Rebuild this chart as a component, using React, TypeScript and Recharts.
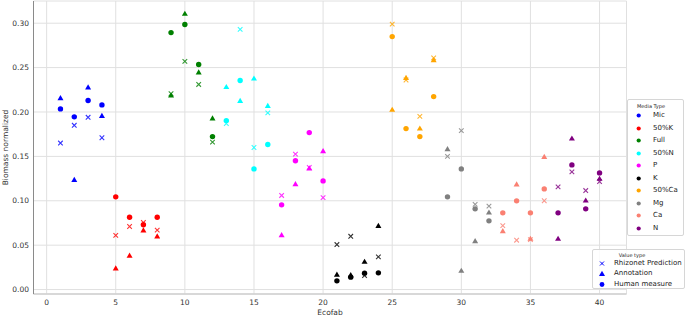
import React from 'react';
import { ScatterChart, Scatter, XAxis, YAxis, CartesianGrid } from 'recharts';

const ecofabs = [
  1, 2, 3, 4, 5, 6, 7, 8, 9, 10, 11, 12, 13, 14, 15, 16, 17, 18, 19, 20,
  21, 22, 23, 24, 25, 26, 27, 28, 29, 30, 31, 32, 33, 34, 35, 36, 37, 38, 39, 40,
];

// four ecofabs per media type, in this order
const mediaTypes = ['Mic', '50%K', 'Full', '50%N', 'P', 'K', '50%Ca', 'Mg', 'Ca', 'N'];

const prediction = [
  0.165, 0.185, 0.194, 0.171,
  0.061, 0.071, 0.0755, 0.067,
  0.2205, 0.257, 0.231, 0.166,
  0.187, 0.293, 0.16, 0.199,
  0.106, 0.1525, 0.1375, 0.1035,
  0.0507, 0.06, 0.0158, 0.0368,
  0.299, 0.236, 0.195, 0.261,
  0.15, 0.179, 0.096, 0.094,
  0.072, 0.0556, 0.0563, 0.1,
  0.1157, 0.1325, 0.1115, 0.1216,
];

const annotation = [
  0.2155, 0.1235, 0.2275, 0.1956,
  0.0237, 0.038, 0.0665, 0.0597,
  0.2185, 0.3105, 0.2444, 0.1926,
  0.228, 0.2125, 0.2376, 0.2068,
  0.0612, 0.1187, 0.1363, 0.1558,
  0.0166, 0.0162, 0.0312, 0.0717,
  0.2024, 0.2384, 0.1813, 0.2583,
  0.1581, 0.0211, 0.0545, 0.0867,
  0.0657, 0.1183, 0.0571, 0.1494,
  0.0571, 0.17, 0.1002, 0.1247,
];

const human = [
  0.2035, 0.1945, 0.213, 0.208,
  0.1044, 0.0815, 0.073, 0.0815,
  0.2894, 0.2985, 0.2534, 0.1723,
  0.1903, 0.2354, 0.1359, 0.1633,
  0.0954, 0.145, 0.1768, 0.1224,
  0.0098, 0.014, 0.0185, 0.0188,
  0.2849, 0.1813, 0.1723, 0.2173,
  0.1044, 0.1359, 0.0909, 0.0774,
  0.0864, 0.0999, 0.0864, 0.1134,
  0.0864, 0.1404, 0.0909, 0.1314,
];

const xTicks = [0, 5, 10, 15, 20, 25, 30, 35, 40];
const yTicks = [0, 0.05, 0.1, 0.15, 0.2, 0.25, 0.3];
const valueTypes = ['Rhizonet Prediction', 'Annotation', 'Human measure'];

const mediaColors: Record<string, string> = {
  Mic: '#0000ff',
  '50%K': '#ff0000',
  Full: '#008000',
  '50%N': '#00ffff',
  P: '#ff00ff',
  K: '#000000',
  '50%Ca': '#ffa500',
  Mg: '#808080',
  Ca: '#fa8072',
  N: '#800080',
};

const FONT = '"DejaVu Sans", sans-serif';

const rows = (values: number[]) =>
  ecofabs.map((e, i) => ({ ecofab: e, value: values[i], media: mediaTypes[Math.floor(i / 4)] }));

const dotShape = (p: any) => (
  <circle cx={p.cx} cy={p.cy} r={2.7} fill={mediaColors[p.payload.media]} />
);

const triPath = (cx: number, cy: number) =>
  `M${cx},${cy - 3.2}L${cx + 3},${cy + 2}L${cx - 3},${cy + 2}Z`;

const triShape = (p: any) => <path d={triPath(p.cx, p.cy)} fill={mediaColors[p.payload.media]} />;

const crossPath = (cx: number, cy: number, s = 2.3) =>
  `M${cx - s},${cy - s}L${cx + s},${cy + s}M${cx - s},${cy + s}L${cx + s},${cy - s}`;

const crossShape = (p: any) => (
  <path
    d={crossPath(p.cx, p.cy)}
    stroke={mediaColors[p.payload.media]}
    strokeWidth={1.1}
    strokeOpacity={0.8}
    fill="none"
  />
);

const boxStyle: React.CSSProperties = {
  position: 'absolute',
  background: 'rgba(255,255,255,0.85)',
  border: '1px solid #d6d6d6',
  borderRadius: 2,
  boxSizing: 'border-box',
  fontFamily: FONT,
  color: '#222',
};

function MediaLegend() {
  return (
    <div style={{ ...boxStyle, left: 627, top: 99, width: 57, height: 137 }}>
      <div style={{ position: 'absolute', left: 0, width: 46, top: 2.5, textAlign: 'center', fontSize: 5, lineHeight: '6px' }}>
        Media Type
      </div>
      {mediaTypes.map((m, i) => (
        <div key={m} style={{ position: 'absolute', left: 0, top: 11 + i * 12.55, height: 8, width: 57 }}>
          <svg width={20} height={8} style={{ position: 'absolute', left: 5, top: 0 }}>
            <circle cx={5.7} cy={4.5} r={2.1} fill={mediaColors[m]} />
          </svg>
          <span style={{ position: 'absolute', left: 25, top: 0, fontSize: 7, lineHeight: '9px', whiteSpace: 'nowrap' }}>{m}</span>
        </div>
      ))}
    </div>
  );
}

function ValueLegend() {
  const marks = [
    <path key="x" d={crossPath(5, 4.5, 2)} stroke="#0000ff" strokeWidth={1} fill="none" />,
    <path key="t" d={triPath(5, 5)} fill="#0000ff" />,
    <circle key="c" cx={5} cy={4.5} r={2.4} fill="#0000ff" />,
  ];
  return (
    <div style={{ ...boxStyle, left: 592, top: 249, width: 93, height: 40 }}>
      <div style={{ position: 'absolute', left: 0, width: 78, top: 2, textAlign: 'center', fontSize: 5, lineHeight: '6px' }}>
        Value type
      </div>
      {valueTypes.map((v, i) => (
        <div key={v} style={{ position: 'absolute', left: 0, top: 8.5 + i * 10.5, height: 9, width: 93 }}>
          <svg width={12} height={9} style={{ position: 'absolute', left: 3.5, top: 0 }}>
            {marks[i]}
          </svg>
          <span style={{ position: 'absolute', left: 21, top: 0, fontSize: 7, lineHeight: '9px', whiteSpace: 'nowrap' }}>{v}</span>
        </div>
      ))}
    </div>
  );
}

export default function App() {
  const tick = { fontSize: 7.5, fill: '#333', fontFamily: FONT };
  return (
    <div style={{ position: 'absolute', left: 0, top: 0, width: 685, height: 317, background: '#fff', fontFamily: FONT }}>
      <ScatterChart width={685} height={317} margin={{ top: 1, right: 58.5, bottom: 0, left: 0 }}>
        <CartesianGrid stroke="#e0e0e0" strokeWidth={1} />
        <XAxis
          type="number"
          dataKey="ecofab"
          domain={[-0.95, 41.95]}
          ticks={xTicks}
          allowDataOverflow
          height={23}
          tick={tick}
          tickLine={false}
          tickSize={4}
          tickMargin={2}
          axisLine={{ stroke: '#d0d0d0', strokeWidth: 1.5 }}
          label={{ value: 'Ecofab', position: 'insideBottom', offset: 1.6, style: { fontSize: 7.5, fill: '#333', fontFamily: FONT } }}
        />
        <YAxis
          type="number"
          dataKey="value"
          domain={[-0.005, 0.325]}
          ticks={yTicks}
          allowDataOverflow
          width={33.5}
          tick={tick}
          tickFormatter={(v: number) => v.toFixed(2)}
          tickLine={false}
          tickSize={3}
          tickMargin={1.5}
          axisLine={{ stroke: '#8a8a8a', strokeWidth: 1 }}
          label={{
            value: 'Biomass normalized',
            angle: -90,
            position: 'insideLeft',
            offset: 5,
            style: { textAnchor: 'middle', fontSize: 7.5, fill: '#333', fontFamily: FONT },
          }}
        />
        <Scatter name="Human measure" data={rows(human)} shape={dotShape} isAnimationActive={false} />
        <Scatter name="Annotation" data={rows(annotation)} shape={triShape} isAnimationActive={false} />
        <Scatter name="Rhizonet Prediction" data={rows(prediction)} shape={crossShape} isAnimationActive={false} />
      </ScatterChart>
      <MediaLegend />
      <ValueLegend />
    </div>
  );
}
